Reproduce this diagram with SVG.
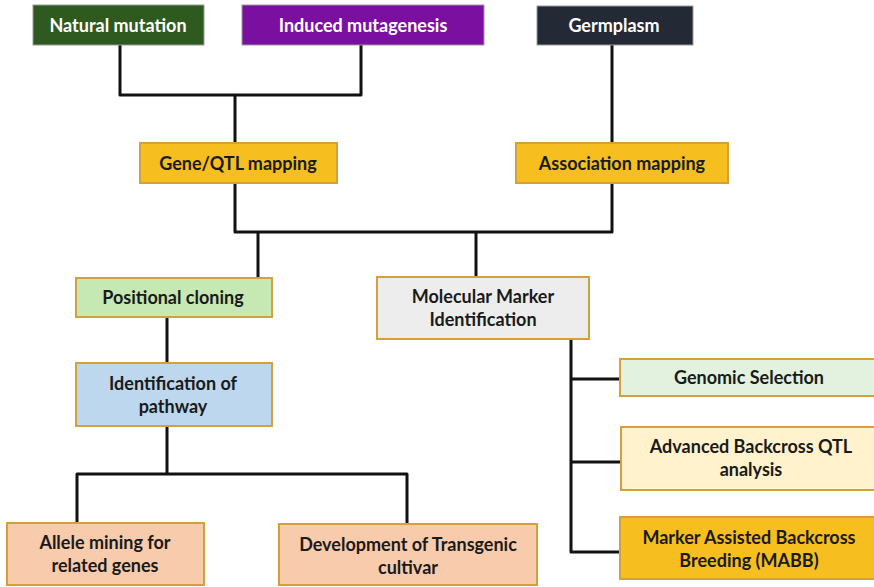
<svg xmlns="http://www.w3.org/2000/svg" width="874" height="587" viewBox="0 0 874 587">
  <style>
    .box { stroke: #d3a03c; stroke-width: 2; }
    .top { stroke: #9a9a9a; stroke-width: 1; }
    .lbl { font-family: Lato, "Open Sans", "Liberation Sans", sans-serif; font-weight: bold; font-size: 18px; text-anchor: middle; fill: #1a1a1a; }
    .wht { fill: #ffffff; }
    .wire { fill: none; stroke: #111111; stroke-width: 3; stroke-linejoin: round; }
  </style>
  <rect width="874" height="587" fill="#ffffff"/>

  <g id="connectors">
    <polyline class="wire" points="120,45 120,95 361,95 361,45"/>
    <line class="wire" x1="235" y1="95" x2="235" y2="143"/>
    <line class="wire" x1="612" y1="45" x2="612" y2="143"/>
    <polyline class="wire" points="235,183 235,232 612,232 612,183"/>
    <line class="wire" x1="258" y1="232" x2="258" y2="278"/>
    <line class="wire" x1="476" y1="232" x2="476" y2="277"/>
    <line class="wire" x1="167" y1="317" x2="167" y2="363"/>
    <line class="wire" x1="167" y1="426" x2="167" y2="474"/>
    <polyline class="wire" points="77,523 77,474 407,474 407,524"/>
    <polyline class="wire" points="571,339 571,552 620,552"/>
    <line class="wire" x1="571" y1="379" x2="620" y2="379"/>
    <line class="wire" x1="571" y1="462" x2="620" y2="462"/>
  </g>

  <g id="natural-mutation">
    <rect class="top" x="33" y="5" width="171" height="40" fill="#2e5a1f"/>
    <text class="lbl wht" x="118" y="32">Natural mutation</text>
  </g>
  <g id="induced-mutagenesis">
    <rect class="top" x="242" y="5" width="242" height="40" fill="#7b10a0"/>
    <text class="lbl wht" x="363" y="32">Induced mutagenesis</text>
  </g>
  <g id="germplasm">
    <rect class="top" x="537" y="6" width="156" height="39" fill="#232a36"/>
    <text class="lbl wht" x="614" y="32">Germplasm</text>
  </g>
  <g id="gene-qtl-mapping">
    <rect class="box" x="140" y="143" width="197" height="40" fill="#f6be1f"/>
    <text class="lbl" x="238" y="170">Gene/QTL mapping</text>
  </g>
  <g id="association-mapping">
    <rect class="box" x="516" y="143" width="212" height="40" fill="#f6be1f"/>
    <text class="lbl" x="622" y="170">Association mapping</text>
  </g>
  <g id="positional-cloning">
    <rect class="box" x="76" y="278" width="196" height="39" fill="#c6e8b2"/>
    <text class="lbl" x="173" y="304">Positional cloning</text>
  </g>
  <g id="molecular-marker">
    <rect class="box" x="377" y="277" width="212" height="62" fill="#ededed"/>
    <text class="lbl" x="483" y="303">Molecular Marker</text>
    <text class="lbl" x="483" y="326">Identification</text>
  </g>
  <g id="identification-pathway">
    <rect class="box" x="76" y="363" width="196" height="63" fill="#bdd7ee"/>
    <text class="lbl" x="173" y="390">Identification of</text>
    <text class="lbl" x="173" y="413">pathway</text>
  </g>
  <g id="genomic-selection">
    <rect class="box" x="620" y="359" width="260" height="37" fill="#e2f2de"/>
    <text class="lbl" x="749" y="384">Genomic Selection</text>
  </g>
  <g id="advanced-backcross">
    <rect class="box" x="621" y="427" width="260" height="63" fill="#fff2cc"/>
    <text class="lbl" x="751" y="453">Advanced Backcross QTL</text>
    <text class="lbl" x="751" y="476">analysis</text>
  </g>
  <g id="mabb">
    <rect class="box" x="620" y="517" width="260" height="62" fill="#f6be1f"/>
    <text class="lbl" x="749" y="544">Marker Assisted Backcross</text>
    <text class="lbl" x="749" y="567">Breeding (MABB)</text>
  </g>
  <g id="allele-mining">
    <rect class="box" x="7" y="523" width="197" height="62" fill="#f8cbad"/>
    <text class="lbl" x="105" y="549">Allele mining for</text>
    <text class="lbl" x="105" y="572">related genes</text>
  </g>
  <g id="transgenic-cultivar">
    <rect class="box" x="279" y="524" width="258" height="61" fill="#f8cbad"/>
    <text class="lbl" x="408" y="551">Development of Transgenic</text>
    <text class="lbl" x="408" y="574">cultivar</text>
  </g>
</svg>
